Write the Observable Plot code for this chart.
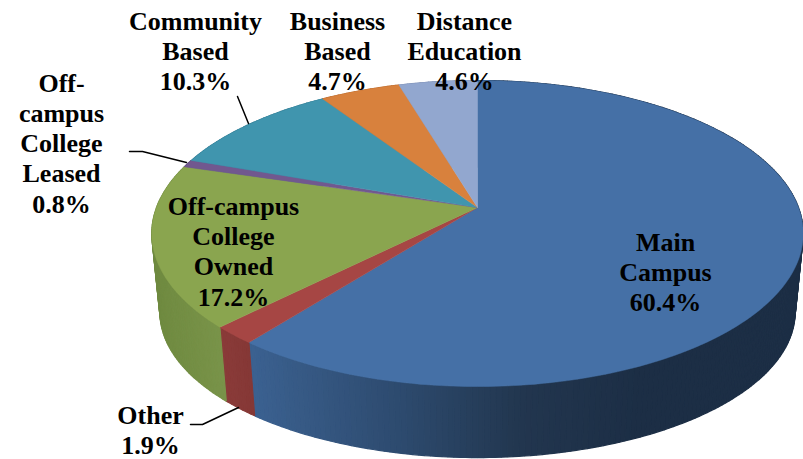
<!DOCTYPE html>
<html>
<head>
<meta charset="utf-8">
<style>html,body{margin:0;padding:0;background:#fff;overflow:hidden}svg{display:block}</style>
<script src="https://cdn.jsdelivr.net/npm/d3@7"></script>
<script src="https://cdn.jsdelivr.net/npm/@observablehq/plot@0.6"></script>
</head>
<body>
<script>
// --- data ---
const categories = ["Main\nCampus", "Other", "Off-campus\nCollege\nOwned", "Off-\ncampus\nCollege\nLeased", "Community\nBased", "Business\nBased", "Distance\nEducation"];
const shares = [60.4, 1.9, 17.2, 0.8, 10.3, 4.7, 4.6];

// --- styles ---
const topColors = ["#4570a6", "#a64644", "#8aa54f", "#71588f", "#4095ae", "#d8813d", "#92a7cf"];
const wallColors = [
  ["#3b6190", "#2d4a6e", "#22364f", "#1c2e45"],
  ["#8a3b39", "#843735"],
  ["#6f8a40", "#7a944a"],
  ["#5d4876", "#5d4876"],
  ["#317a90", "#317a90"],
  ["#b86b30", "#b86b30"],
  ["#7a8cb0", "#7a8cb0"]
];
const wallStops = [[250, 400, 520, 640], [218, 254], [150, 225]];

// --- layout: tilted-disc projection and label placement in pixels ---
const W = 803, H = 459;
const cx = 477, cy = 207, a = 321, b = 148.6, k = 0.17;
const baseScale = 0.975, baseDrop = 80, baseSquash = 0.95;
const rimOffset = 0.3; // the drawn first slice runs a touch wider than its share
const labelX = [665, 150, 233, 61, 195, 337, 464];
const labelY = [271, 429, 250, 142, 50, 50, 50];
const leaders = [
  [[237, 96], [248, 123]],
  [[129, 151], [142, 151], [186, 162]],
  [[190, 424], [202, 424], [238, 407]]
];

function topPoint(pct) {
  const t = pct / 100 * 2 * Math.PI;
  const X = Math.sin(t), Y = -Math.cos(t), d = 1 - k * Y;
  return [cx + a * X / d, cy + b * Y / d];
}
function basePoint(pct) {
  const [x, y] = topPoint(pct);
  return [cx + baseScale * (x - cx), cy + baseDrop + baseSquash * (y - cy)];
}

const total = d3.sum(shares);
const cumulative = d3.cumsum(shares, v => v / total * (100 - rimOffset));
const ends = Array.from(cumulative, (c, i) => i === shares.length - 1 ? 100 : c + rimOffset);
const starts = ends.map((_, i) => i === 0 ? 0 : ends[i - 1]);

const wallRows = [], topRows = [];
const STEP = 0.25;
shares.forEach((_, i) => {
  const stops = wallStops[i];
  const shade = stops ? d3.scaleLinear().domain(stops).range(wallColors[i]).clamp(true) : () => wallColors[i][0];
  for (let p = starts[i]; p < ends[i]; p += STEP) {
    const q = Math.min(p + STEP, ends[i]);
    const [tx0, ty0] = topPoint(p), [tx1, ty1] = topPoint(q), [bx0, by0] = basePoint(p), [bx1, by1] = basePoint(q);
    const color = d3.rgb(shade((tx0 + tx1) / 2)).formatHex();
    const id = `w${i}-${p}`;
    [[tx0, ty0], [tx1, ty1], [bx1, by1], [bx0, by0], [tx0, ty0]].forEach(([x, y]) => wallRows.push({x, y, id, color}));
  }
  const id = `t${i}`, color = topColors[i];
  topRows.push({x: cx, y: cy, id, color});
  for (let p = starts[i]; ; p += STEP) {
    const q = Math.min(p, ends[i]);
    const [x, y] = topPoint(q);
    topRows.push({x, y, id, color});
    if (q >= ends[i]) break;
  }
  topRows.push({x: cx, y: cy, id, color});
});

const labels = categories.map((c, i) => ({
  text: `${c}\n${shares[i].toFixed(1)}%`,
  x: labelX[i],
  y: labelY[i]
}));
const leaderRows = leaders.flatMap((pts, id) => pts.map(([x, y]) => ({x, y, id})));

const chart = Plot.plot({
  width: W, height: H,
  margin: 0,
  x: {axis: null, domain: [0, W], range: [0, W]},
  y: {axis: null, domain: [0, H], range: [0, H]},
  style: {background: "#fff"},
  marks: [
    Plot.line(wallRows, {x: "x", y: "y", z: "id", fill: "color", stroke: "color", strokeWidth: 1.2, strokeLinejoin: "bevel", curve: "linear"}),
    Plot.line(topRows, {x: "x", y: "y", z: "id", fill: "color", stroke: "color", strokeWidth: 0.5, curve: "linear"}),
    Plot.line(leaderRows, {x: "x", y: "y", z: "id", stroke: "#000", strokeWidth: 1.5, curve: "linear"}),
    Plot.text(labels, {
      x: "x", y: "y", text: "text",
      fontFamily: "Liberation Serif", fontWeight: "bold", fontSize: 26,
      lineHeight: 1.165, fill: "#000", textAnchor: "middle"
    })
  ]
});
document.body.appendChild(chart);
</script>
</body>
</html>
